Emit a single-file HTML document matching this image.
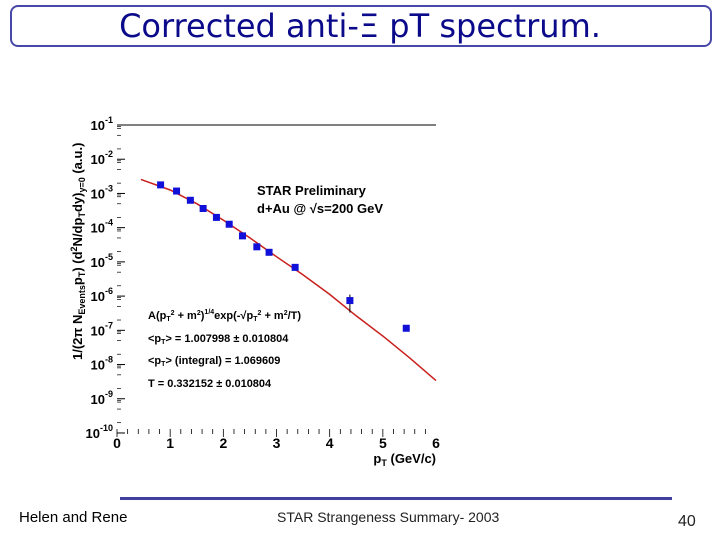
<!DOCTYPE html>
<html><head><meta charset="utf-8"><style>
body{margin:0;width:720px;height:540px;background:#fff;position:relative;overflow:hidden;font-family:"Liberation Sans",sans-serif}
#title-box{position:absolute;left:10px;top:5px;width:702px;height:42px;border:2px solid #4848a8;border-radius:8px;box-sizing:border-box}
#title{position:absolute;left:0;top:7px;width:720px;text-align:center;font-family:"DejaVu Sans","Liberation Sans",sans-serif;font-size:32px;color:#0a0a8a;letter-spacing:0px}
#footer-line{position:absolute;left:120px;top:497px;width:552px;height:3px;background:#4040a0}
.ft{position:absolute;top:509px;font-size:14px;color:#000}
</style></head><body>
<div id="title-box"></div>
<div id="title">Corrected anti-Ξ pT spectrum.</div>
<svg id="chart" width="720" height="540" style="position:absolute;left:0;top:0"></svg>
<div id="footer-line"></div>
<div class="ft" style="left:19px;font-size:15px">Helen and Rene</div>
<div class="ft" style="left:277px;color:#222">STAR Strangeness Summary- 2003</div>
<div class="ft" style="left:678px;font-size:16px;top:513px;color:#222">40</div>
<script>
const xTicks=[0,1,2,3,4,5,6];
const yDecades=[-1,-2,-3,-4,-5,-6,-7,-8,-9,-10];
const ptValues=[0.82,1.12,1.38,1.62,1.87,2.11,2.36,2.63,2.86,3.35,4.38,5.44];
const logYields=[-2.75,-2.93,-3.2,-3.44,-3.7,-3.9,-4.24,-4.56,-4.72,-5.16,-6.13,-6.94];
const fitPt=[0.45,1,1.5,2,2.5,3,3.5,4,4.5,5,5.5,6];
const fitLogY=[-2.59,-2.9,-3.3,-3.78,-4.3,-4.85,-5.38,-5.95,-6.58,-7.17,-7.8,-8.47];
const NS='http://www.w3.org/2000/svg';
const svg=document.getElementById('chart');
const X=v=>117+v*53.17;
const Y=l=>125+(-1-l)*34.22;
function mk(tag,attrs,parent){const e=document.createElementNS(NS,tag);for(const k in attrs)e.setAttribute(k,attrs[k]);(parent||svg).appendChild(e);return e;}
let tl=mk('line',{x1:X(0),x2:X(6),y1:Y(-1),y2:Y(-1),stroke:'#000','stroke-width':1});


yDecades.forEach(d=>{
  const y=Y(d);
  const t=mk('text',{x:113,y:y+5,'text-anchor':'end','font-size':13,'font-weight':'bold',fill:'#000'});
  
  
  t.textContent='10';
  const s=mk('tspan',{dy:-7,'font-size':9},t);s.textContent=String(d);
  const tk=mk('line',{x1:117,x2:125,y1:y,y2:y,stroke:'#000'});
  
  
  if(d>-10){[2,5,8,9].forEach(m=>{const yy=Y(d-1+Math.log10(m));
    const mt=mk('line',{x1:117,x2:121,y1:yy,y2:yy,stroke:'#000','stroke-width':0.7});
    
    });}
});
xTicks.forEach(v=>{
  const t=mk('text',{x:X(v),y:448,'text-anchor':'middle','font-size':14,'font-weight':'bold'});
  
  
  t.textContent=v;
  for(let k=0;k<5&&v<6;k++){const xx=X(v+k*0.2);
    const mt=mk('line',{x1:xx,x2:xx,y1:429,y2:k==0?437:434,stroke:'#000','stroke-width':0.8});
    
    }
});
let xt=mk('text',{x:436,y:463,'text-anchor':'end','font-size':13,'font-weight':'bold'});


xt.innerHTML='p<tspan font-size="9" dy="3">T</tspan><tspan dy="-3"> (GeV/c)</tspan>';
let yt=mk('text',{x:0,y:0,'font-size':13,'font-weight':'bold',transform:'translate(82,360) rotate(-90)'});


yt.innerHTML='1/(2π N<tspan font-size="9" dy="3">Events</tspan><tspan dy="-3">p</tspan><tspan font-size="9" dy="3">T</tspan><tspan dy="-3">) (d</tspan><tspan font-size="9" dy="-5">2</tspan><tspan dy="5">N/dp</tspan><tspan font-size="9" dy="3">T</tspan><tspan dy="-3">dy)</tspan><tspan font-size="9" dy="3">y=0</tspan><tspan dy="-3"> (a.u.)</tspan>';
let d='';fitPt.forEach((p,i)=>{d+=(i?'L':'M')+X(p).toFixed(1)+','+Y(fitLogY[i]).toFixed(1);});
let fp=mk('path',{d:d,fill:'none',stroke:'#c8201c','stroke-width':1.5});


let eb=mk('line',{x1:X(ptValues[10]),x2:X(ptValues[10]),y1:Y(logYields[10])-6,y2:Y(logYields[10])+12,stroke:'#000'});


ptValues.forEach((p,i)=>{
  const r=mk('rect',{x:X(p)-3.5,y:Y(logYields[i])-3.5,width:7,height:7,fill:'#1010d8'});
  
  
});
function txt(x,y,html,name,size){const t=mk('text',{x:x,y:y,'font-size':size||13,'font-weight':'bold'});
  
  
  t.innerHTML=html;return t;}
txt(257,195,'STAR Preliminary','star-preliminary-label');
txt(257,213,'d+Au @ √s=200 GeV','collision-label');
txt(148,319,'A(p<tspan font-size="7" dy="2">T</tspan><tspan font-size="7" dy="-6">2</tspan><tspan dy="4"> + m</tspan><tspan font-size="7" dy="-4">2</tspan><tspan dy="4">)</tspan><tspan font-size="7" dy="-5">1/4</tspan><tspan dy="5">exp(-√p</tspan><tspan font-size="7" dy="2">T</tspan><tspan font-size="7" dy="-6">2</tspan><tspan dy="4"> + m</tspan><tspan font-size="7" dy="-4">2</tspan><tspan dy="4">/T)</tspan>','fit-formula',11);
txt(148,342,'&lt;p<tspan font-size="7" dy="2">T</tspan><tspan dy="-2">&gt; = 1.007998 ± 0.010804</tspan>','mean-pt',11);
txt(148,364,'&lt;p<tspan font-size="7" dy="2">T</tspan><tspan dy="-2">&gt; (integral) = 1.069609</tspan>','mean-pt-integral',11);
txt(148,387,'T = 0.332152 ± 0.010804','temperature',11);
</script>
</body></html>
